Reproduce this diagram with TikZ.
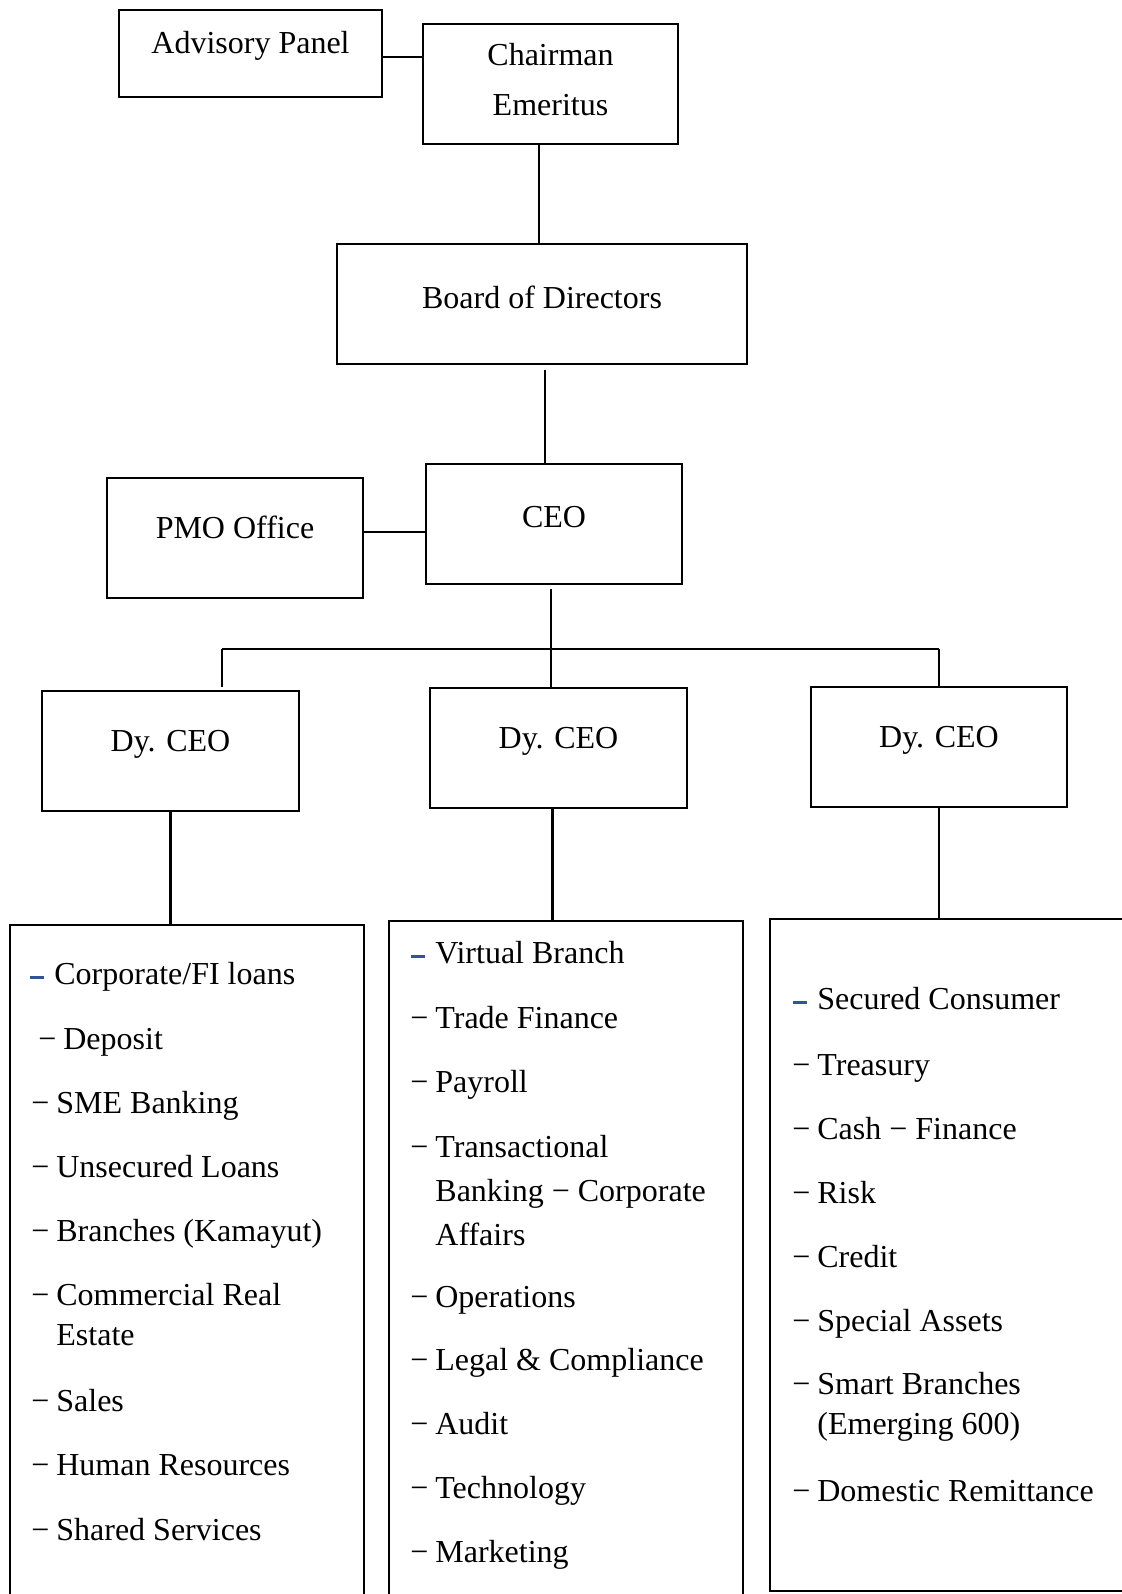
\documentclass[tikz,border=0pt]{standalone}
\usepackage{fontspec}
\setmainfont{Liberation Serif}
\definecolor{dashblue}{RGB}{47,85,151}
\newcommand{\dsh}{\llap{−\hspace{3.5pt}}}
\newcommand{\bdsh}{\llap{\textcolor{dashblue}{\rule[2.7pt]{7pt}{1.5pt}}\hspace{5pt}}}
\begin{document}
\begin{tikzpicture}[x=0.5pt, y=-0.5pt,
    box_style/.style={draw, line width=1.3pt, inner sep=0pt, minimum height=60pt,
        text height=0pt, text depth=0pt, font=\fontsize{16}{23}\selectfont},
    list_style/.style={draw, line width=1.3pt, inner sep=0pt},
    item_style/.style={anchor=base west, inner sep=0pt, align=left, font=\fontsize{16}{21}\selectfont},
    link/.style={line width=1.2pt}
]
\useasboundingbox (0,0) rectangle (1122,1594);
% top levels
\node[box_style, line width=0.7pt, minimum width=131.5pt, minimum height=43.5pt] (adv) at (250.5,53.5) {Advisory Panel};
\node[box_style, minimum width=127.5pt, align=center, text height=32pt,
    font=\fontsize{16}{25}\selectfont] (chair) at (550.5,84) {Chairman\\Emeritus};
\node[box_style, minimum width=205pt, text height=4.5pt] (board) at (542,304) {Board of Directors};
\node[box_style, minimum width=128pt, text height=3pt] (ceo) at (554,524) {CEO};
\node[box_style, minimum width=128pt] (pmo) at (235,538) {PMO Office};
% deputies
\node[box_style, minimum width=128.5pt] (dy1) at (170.5,751) {Dy. CEO};
\node[box_style, minimum width=128.5pt] (dy2) at (558.5,748) {Dy. CEO};
\node[box_style, minimum width=128pt] (dy3) at (939,747) {Dy. CEO};
% lists
\node[list_style, minimum width=177pt, minimum height=357.5pt] (box1) at (187,1282.5) {};
\node[list_style, minimum width=177pt, minimum height=359.5pt] (box2) at (566,1280.5) {};
\node[list_style, minimum width=185pt, minimum height=336pt] (box3) at (955,1255) {};

% base of a wrapped item is its last line
\foreach \x/\y/\t in {54/984/{\bdsh Corporate/FI loans}, 63/1049/{\dsh Deposit},
    56/1113/{\dsh SME Banking}, 56/1177/{\dsh Unsecured Loans},
    56/1241/{\dsh Branches (Kamayut)}, 56/1345/{\dsh Commercial Real\\[-1pt]Estate},
    56/1411/{\dsh Sales}, 56/1475/{\dsh Human Resources}, 56/1540/{\dsh Shared Services}}
    \node[item_style] at (\x,\y) {\t};
\foreach \y/\t in {963/{\bdsh Virtual Branch}, 1028/{\dsh Trade Finance}, 1092/{\dsh Payroll},
    1245/{\dsh Transactional\\[1pt]Banking − Corporate\\[1pt]Affairs}, 1307/{\dsh Operations},
    1370/{\dsh Legal \& Compliance}, 1434/{\dsh Audit}, 1498/{\dsh Technology}, 1562/{\dsh Marketing}}
    \node[item_style] at (435,\y) {\t};
\foreach \y/\t in {1009/{\bdsh Secured Consumer}, 1075/{\dsh Treasury}, 1139/{\dsh Cash − Finance},
    1203/{\dsh Risk}, 1267/{\dsh Credit}, 1331/{\dsh Special Assets},
    1434/{\dsh Smart Branches\\[-1pt](Emerging 600)}, 1501/{\dsh Domestic Remittance}}
    \node[item_style] at (817,\y) {\t};

% connectors
\draw[link] ([yshift=-1.75pt]adv.east) -- ([yshift=-1.75pt]adv.east -| chair.west);
\draw[link] ([xshift=-5.75pt]chair.south) -- ([xshift=-5.75pt]chair.south |- board.north);
\draw[link, shorten <=2.5pt] ([xshift=1.5pt]board.south) -- ([xshift=1.5pt]board.south |- ceo.north);
\draw[link] ([yshift=3pt]pmo.east) -- ([yshift=3pt]pmo.east -| ceo.west);
\coordinate (busL) at (222,649);
\coordinate (busR) at (939,649);
\draw[link] (busL) -- (busR);
\draw[link, shorten >=1.5pt] (busL) -- (busL |- dy1.north);
\draw[link] (busR) -- (dy3.north);
\draw[link, shorten <=2pt] ([xshift=-1.5pt]ceo.south) -- ([xshift=-1.5pt]ceo.south |- dy2.north);
\draw[link] (dy1.south) -- (dy1.south |- box1.north);
\draw[link] ([xshift=-3pt]dy2.south) -- ([xshift=-3pt]dy2.south |- box2.north);
\draw[link] (dy3.south) -- (dy3.south |- box3.north);
\end{tikzpicture}
\end{document}
